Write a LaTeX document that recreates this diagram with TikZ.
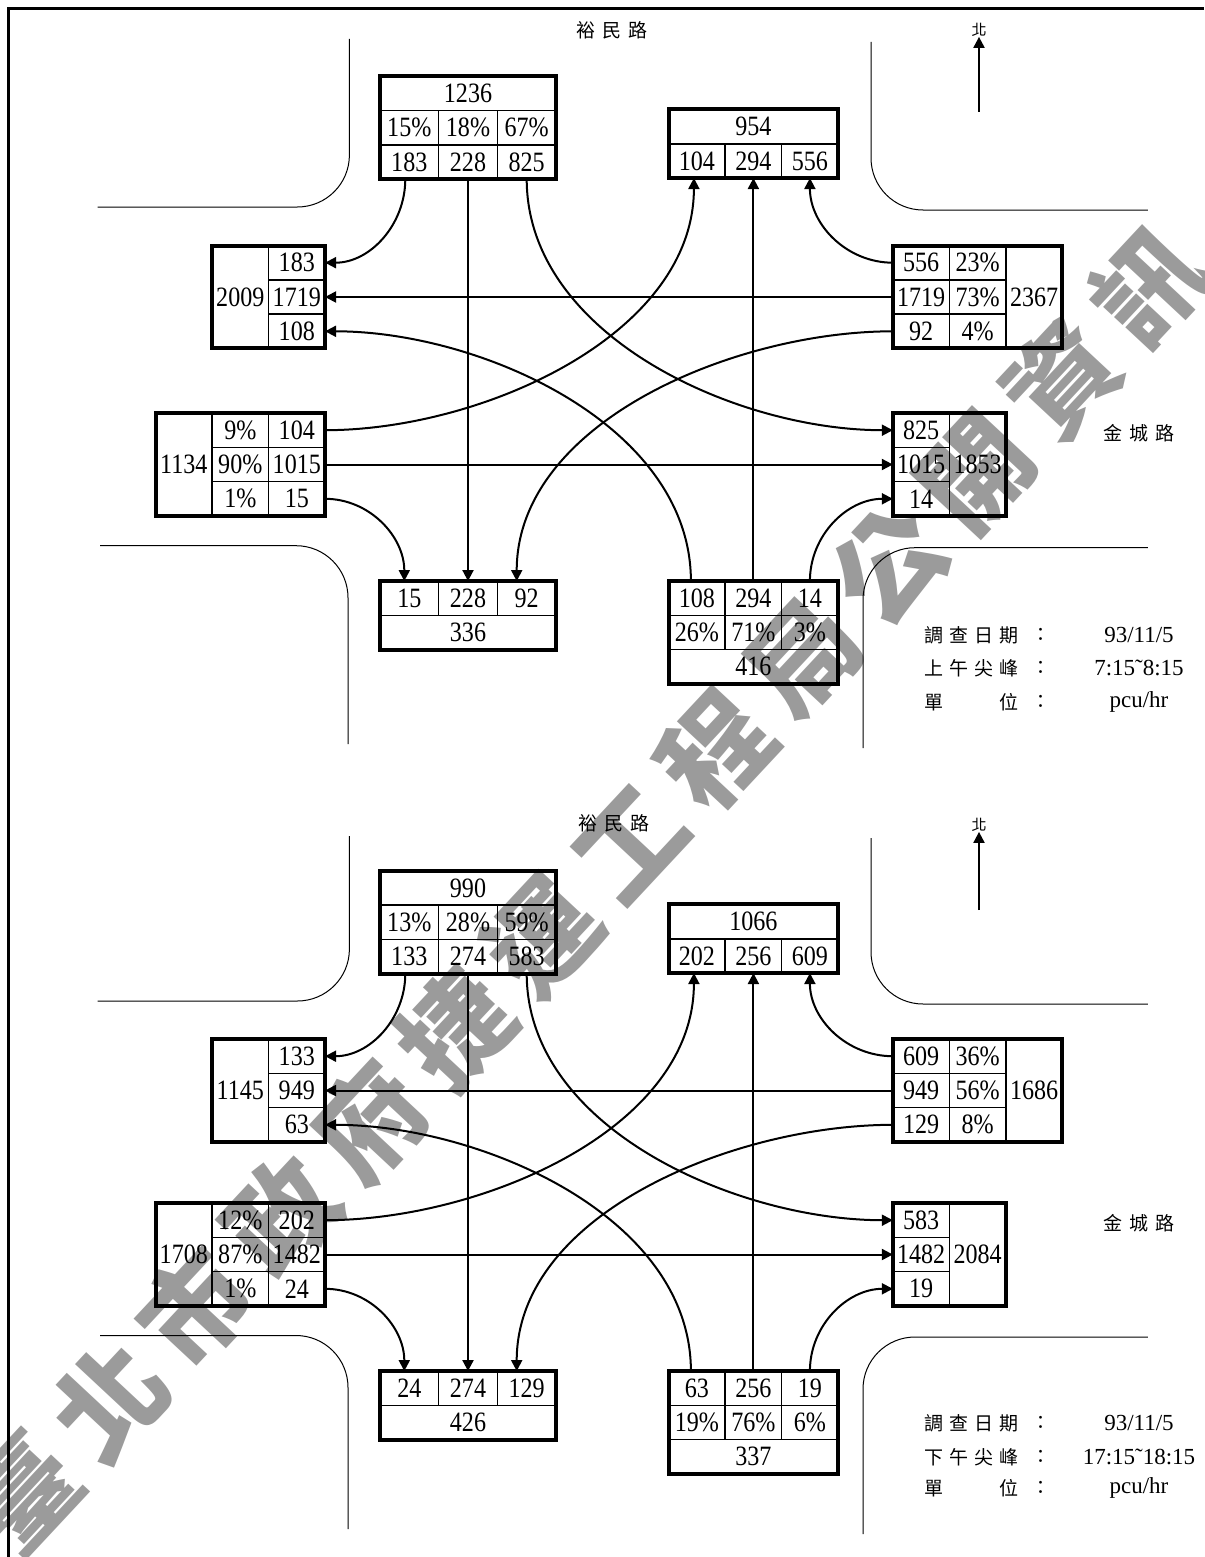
\documentclass[tikz,border=0pt]{standalone}
\usepackage{fontspec}
\setmainfont{Liberation Serif}
\newfontfamily\numfont{Liberation Serif}[FakeStretch=0.86]
\newfontfamily\cjkfont{Noto Sans CJK TC}
\usetikzlibrary{positioning,arrows.meta}
\definecolor{wmgray}{RGB}{155,155,155}

\begin{document}
\begin{tikzpicture}[x=1pt, y=1pt,
   cell/.style={draw, line width=1.6pt, inner sep=0pt, outer sep=0pt, minimum width=56.5pt, minimum height=34.3pt, font=\numfont\fontsize{28pt}{30pt}\selectfont},
   wcell/.style={cell, minimum width=58.7pt},
   boxline/.style={line width=4pt},
   flow/.style={line width=2pt, -{Triangle[length=11pt, width=11pt]}},
   curb/.style={line width=1pt, rounded corners=52pt},
   cjktext/.style={inner sep=0pt, font=\cjkfont\fontsize{19pt}{19pt}\selectfont},
   infoval/.style={inner sep=0pt, font=\fontsize{23pt}{23pt}\selectfont}
]
\useasboundingbox (0,0) rectangle (1204,-1557);

% Watermark
\node[rotate=47, inner sep=0pt, text=wmgray, font=\cjkfont\bfseries\fontsize{108pt}{108pt}\selectfont] (watermark) at (586,-890)
  {臺\kern19pt 北\kern19pt 市\kern19pt 政\kern19pt 府\kern19pt 捷\kern19pt 運\kern19pt 工\kern19pt 程\kern19pt 局\kern19pt 公\kern19pt 開\kern19pt 資\kern19pt 訊};

% Frame
\draw[line width=3pt] (8.4,-1557) -- (8.4,-9) -- (1204,-9);

%% ---------------- Morning peak ----------------
\begin{scope}
% Curbs
\draw[curb] (349.4,-39) -- (349.4,-207) -- (97.6,-207);
\draw[curb] (871,-42) -- (871,-210) -- (1147.8,-210);
\draw[curb] (100,-545.7) -- (348,-545.7) -- (348,-744);
\draw[curb] (1147.8,-547.7) -- (863,-547.7) -- (863,-748);

% Road names and north arrow
\node[cjktext] (roadN) at (612,-30) {裕\kern7pt 民\kern7pt 路};
\node[cjktext] (roadE) at (1139,-433) {金\kern7pt 城\kern7pt 路};
\node[cjktext, font=\cjkfont\fontsize{15pt}{15pt}\selectfont] (north) at (979,-30) {北};
\coordinate (northtail) at (979,-112);
\draw[flow] (northtail) -- (north);

% Survey info
\node[cjktext, anchor=west] (date) at (924,-635) {調\kern6pt 查\kern6pt 日\kern6pt 期};
\node[cjktext, anchor=west] (peak) at (924,-668) {上\kern6pt 午\kern6pt 尖\kern6pt 峰};
\node[cjktext, anchor=west] (unit) at (924,-702) {單\kern56pt 位};
\node[cjktext] at (1041,-635) {：};
\node[cjktext] at (1041,-668) {：};
\node[cjktext] at (1041,-702) {：};
\node[infoval] at (1139,-635) {93/11/5};
\node[infoval] at (1139,-668) {7:15˜8:15};
\node[infoval] at (1139,-702) {pcu/hr};

% North approach
\node[wcell] (nin1) at (409.3,-161.9) {183};
\node[wcell, right=0pt of nin1] (nin2) {228};
\node[wcell, right=0pt of nin2] (nin3) {825};
\node[wcell, above=0pt of nin1] {15\%};
\node[wcell, above=0pt of nin2] (nin2p) {18\%};
\node[wcell, above=0pt of nin3] {67\%};
\node[wcell, above=0pt of nin2p, minimum width=176.1pt] (ninsum) {1236};
\draw[boxline] (ninsum.north west) rectangle (nin3.south east);

% North departure
\node[cell] (nout1) at (696.9,-160.9) {104};
\node[cell, right=0pt of nout1] (nout2) {294};
\node[cell, right=0pt of nout2] (nout3) {556};
\node[cell, above=0pt of nout2, minimum width=169.5pt] (noutsum) {954};
\draw[boxline] (noutsum.north west) rectangle (nout3.south east);

% West departure
\node[cell] (wout1) at (296.8,-262.7) {183};
\node[cell, below=0pt of wout1] (wout2) {1719};
\node[cell, below=0pt of wout2] (wout3) {108};
\node[cell, left=0pt of wout2, minimum height=102.9pt] (woutsum) {2009};
\draw[boxline] (woutsum.north west) rectangle (wout3.south east);

% East approach
\node[cell] (ein1) at (921.1,-262.7) {556};
\node[cell, below=0pt of ein1] (ein2) {1719};
\node[cell, below=0pt of ein2] (ein3) {92};
\node[cell, right=0pt of ein1] {23\%};
\node[cell, right=0pt of ein2] (ein2p) {73\%};
\node[cell, right=0pt of ein3] {4\%};
\node[cell, right=0pt of ein2p, minimum height=102.9pt] (einsum) {2367};
\draw[boxline] (ein1.north west) rectangle (einsum.south east);

% West approach
\node[cell] (win1) at (296.8,-430.2) {104};
\node[cell, below=0pt of win1] (win2) {1015};
\node[cell, below=0pt of win2] (win3) {15};
\node[cell, left=0pt of win1] {9\%};
\node[cell, left=0pt of win2] (win2p) {90\%};
\node[cell, left=0pt of win3] {1\%};
\node[cell, left=0pt of win2p, minimum height=102.9pt] (winsum) {1134};
\draw[boxline] (winsum.north west) rectangle (win3.south east);

% East departure
\node[cell] (eout1) at (921.1,-430.2) {825};
\node[cell, below=0pt of eout1] (eout2) {1015};
\node[cell, below=0pt of eout2] (eout3) {14};
\node[cell, right=0pt of eout2, minimum height=102.9pt] (eoutsum) {1853};
\draw[boxline] (eout1.north west) rectangle (eoutsum.south east);

% South departure
\node[wcell] (sout1) at (409.3,-598.2) {15};
\node[wcell, right=0pt of sout1] (sout2) {228};
\node[wcell, right=0pt of sout2] (sout3) {92};
\node[wcell, below=0pt of sout2, minimum width=176.1pt] (soutsum) {336};
\draw[boxline] (sout1.north west) rectangle (soutsum.south east);

% South approach
\node[cell] (sin1) at (696.9,-598.2) {108};
\node[cell, right=0pt of sin1] (sin2) {294};
\node[cell, right=0pt of sin2] (sin3) {14};
\node[cell, below=0pt of sin1] {26\%};
\node[cell, below=0pt of sin2] (sin2p) {71\%};
\node[cell, below=0pt of sin3] {3\%};
\node[cell, below=0pt of sin2p, minimum width=169.5pt] (sinsum) {416};
\draw[boxline] (sin1.north west) rectangle (sinsum.south east);

% Turning flows
\draw[flow] ([xshift=-4pt]nin1.south) to[out=-90, in=0] (wout1.east);
\draw[flow] (nin2.south) -- (sout2.north);
\draw[flow] (nin3.south) to[out=-90, in=180, looseness=0.9] (eout1.west);
\draw[flow] (ein1.west) to[out=180, in=-90] (nout3.south);
\draw[flow] (ein2.west) -- (wout2.east);
\draw[flow] (ein3.west) to[out=180, in=90, looseness=0.9] ([xshift=-10pt]sout3.north);
\draw[flow] (win1.east) to[out=0, in=-90, looseness=0.9] ([xshift=-3pt]nout1.south);
\draw[flow] (win2.east) -- (eout2.west);
\draw[flow] (win3.east) to[out=0, in=90] ([xshift=-5pt]sout1.north);
\draw[flow] ([xshift=-6pt]sin1.north) to[out=90, in=0, looseness=0.9] (wout3.east);
\draw[flow] (sin2.north) -- (nout2.south);
\draw[flow] (sin3.north) to[out=90, in=180] (eout3.west);
\end{scope}

%% ---------------- Evening peak ----------------
\begin{scope}[yshift=-792pt]
% Curbs
\draw[curb] (349.4,-44) -- (349.4,-209) -- (97.6,-209);
\draw[curb] (871,-46) -- (871,-212) -- (1147.8,-212);
\draw[curb] (100,-543.5) -- (348,-543.5) -- (348,-737);
\draw[curb] (1147.8,-545) -- (863,-545) -- (863,-742);

% Road names and north arrow
\node[cjktext] (roadN) at (614,-31) {裕\kern7pt 民\kern7pt 路};
\node[cjktext] (roadE) at (1139,-431) {金\kern7pt 城\kern7pt 路};
\node[cjktext, font=\cjkfont\fontsize{15pt}{15pt}\selectfont] (north) at (979,-33) {北};
\coordinate (northtail) at (979,-118);
\draw[flow] (northtail) -- (north);

% Survey info
\node[cjktext, anchor=west] (date) at (924,-631) {調\kern6pt 查\kern6pt 日\kern6pt 期};
\node[cjktext, anchor=west] (peak) at (924,-665) {下\kern6pt 午\kern6pt 尖\kern6pt 峰};
\node[cjktext, anchor=west] (unit) at (924,-696) {單\kern56pt 位};
\node[cjktext] at (1041,-631) {：};
\node[cjktext] at (1041,-665) {：};
\node[cjktext] at (1041,-696) {：};
\node[infoval] at (1139,-631) {93/11/5};
\node[infoval] at (1139,-665) {17:15˜18:15};
\node[infoval] at (1139,-696) {pcu/hr};

% North approach
\node[wcell] (nin1) at (409.3,-164.5) {133};
\node[wcell, right=0pt of nin1] (nin2) {274};
\node[wcell, right=0pt of nin2] (nin3) {583};
\node[wcell, above=0pt of nin1] {13\%};
\node[wcell, above=0pt of nin2] (nin2p) {28\%};
\node[wcell, above=0pt of nin3] {59\%};
\node[wcell, above=0pt of nin2p, minimum width=176.1pt] (ninsum) {990};
\draw[boxline] (ninsum.north west) rectangle (nin3.south east);

% North departure
\node[cell] (nout1) at (696.9,-163.9) {202};
\node[cell, right=0pt of nout1] (nout2) {256};
\node[cell, right=0pt of nout2] (nout3) {609};
\node[cell, above=0pt of nout2, minimum width=169.5pt] (noutsum) {1066};
\draw[boxline] (noutsum.north west) rectangle (nout3.south east);

% West departure
\node[cell] (wout1) at (296.8,-264.2) {133};
\node[cell, below=0pt of wout1] (wout2) {949};
\node[cell, below=0pt of wout2] (wout3) {63};
\node[cell, left=0pt of wout2, minimum height=102.9pt] (woutsum) {1145};
\draw[boxline] (woutsum.north west) rectangle (wout3.south east);

% East approach
\node[cell] (ein1) at (921.1,-264.2) {609};
\node[cell, below=0pt of ein1] (ein2) {949};
\node[cell, below=0pt of ein2] (ein3) {129};
\node[cell, right=0pt of ein1] {36\%};
\node[cell, right=0pt of ein2] (ein2p) {56\%};
\node[cell, right=0pt of ein3] {8\%};
\node[cell, right=0pt of ein2p, minimum height=102.9pt] (einsum) {1686};
\draw[boxline] (ein1.north west) rectangle (einsum.south east);

% West approach
\node[cell] (win1) at (296.8,-428.2) {202};
\node[cell, below=0pt of win1] (win2) {1482};
\node[cell, below=0pt of win2] (win3) {24};
\node[cell, left=0pt of win1] {12\%};
\node[cell, left=0pt of win2] (win2p) {87\%};
\node[cell, left=0pt of win3] {1\%};
\node[cell, left=0pt of win2p, minimum height=102.9pt] (winsum) {1708};
\draw[boxline] (winsum.north west) rectangle (win3.south east);

% East departure
\node[cell] (eout1) at (921.1,-428.2) {583};
\node[cell, below=0pt of eout1] (eout2) {1482};
\node[cell, below=0pt of eout2] (eout3) {19};
\node[cell, right=0pt of eout2, minimum height=102.9pt] (eoutsum) {2084};
\draw[boxline] (eout1.north west) rectangle (eoutsum.south east);

% South departure
\node[wcell] (sout1) at (409.3,-596.2) {24};
\node[wcell, right=0pt of sout1] (sout2) {274};
\node[wcell, right=0pt of sout2] (sout3) {129};
\node[wcell, below=0pt of sout2, minimum width=176.1pt] (soutsum) {426};
\draw[boxline] (sout1.north west) rectangle (soutsum.south east);

% South approach
\node[cell] (sin1) at (696.9,-596.2) {63};
\node[cell, right=0pt of sin1] (sin2) {256};
\node[cell, right=0pt of sin2] (sin3) {19};
\node[cell, below=0pt of sin1] {19\%};
\node[cell, below=0pt of sin2] (sin2p) {76\%};
\node[cell, below=0pt of sin3] {6\%};
\node[cell, below=0pt of sin2p, minimum width=169.5pt] (sinsum) {337};
\draw[boxline] (sin1.north west) rectangle (sinsum.south east);

% Turning flows
\draw[flow] ([xshift=-4pt]nin1.south) to[out=-90, in=0] (wout1.east);
\draw[flow] (nin2.south) -- (sout2.north);
\draw[flow] (nin3.south) to[out=-90, in=180, looseness=0.9] (eout1.west);
\draw[flow] (ein1.west) to[out=180, in=-90] (nout3.south);
\draw[flow] (ein2.west) -- (wout2.east);
\draw[flow] (ein3.west) to[out=180, in=90, looseness=0.9] ([xshift=-10pt]sout3.north);
\draw[flow] (win1.east) to[out=0, in=-90, looseness=0.9] ([xshift=-3pt]nout1.south);
\draw[flow] (win2.east) -- (eout2.west);
\draw[flow] (win3.east) to[out=0, in=90] ([xshift=-5pt]sout1.north);
\draw[flow] ([xshift=-6pt]sin1.north) to[out=90, in=0, looseness=0.9] (wout3.east);
\draw[flow] (sin2.north) -- (nout2.south);
\draw[flow] (sin3.north) to[out=90, in=180] (eout3.west);
\end{scope}

\end{tikzpicture}
\end{document}
